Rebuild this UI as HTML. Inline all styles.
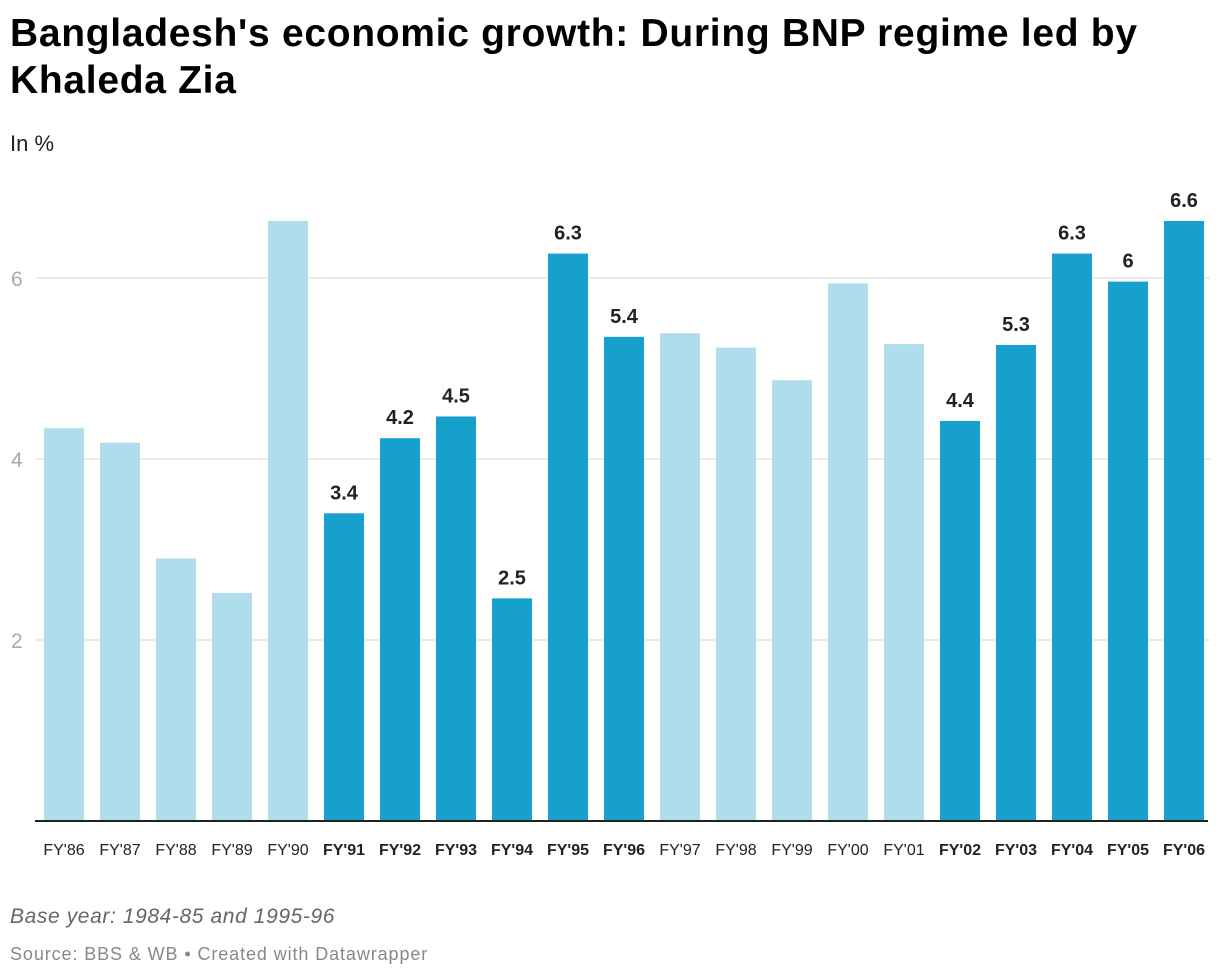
<!DOCTYPE html>
<html><head><meta charset="utf-8"><style>
body{margin:0;background:#fff;width:1220px;height:980px;overflow:hidden;font-family:"Liberation Sans",Arial,sans-serif;}
.t{position:absolute;left:10px;top:10px;font-size:39px;font-weight:bold;line-height:47px;color:#000;letter-spacing:0.7px;width:1210px}
.s{position:absolute;left:10px;top:131px;font-size:22px;color:#222}
.n{position:absolute;left:10px;top:905px;font-size:21px;font-style:italic;color:#666;letter-spacing:0.6px}
.src{position:absolute;left:10px;top:944px;font-size:18px;color:#888;letter-spacing:0.9px}
</style></head><body>
<div class="t">Bangladesh's economic growth: During BNP regime led by Khaleda Zia</div>
<div class="s">In %</div>
<svg id="c" width="1220" height="980" style="position:absolute;left:0;top:0"></svg>
<div class="n">Base year: 1984-85 and 1995-96</div>
<div class="src">Source: BBS &amp; WB • Created with Datawrapper</div>
<script>
const categories=["FY'86","FY'87","FY'88","FY'89","FY'90","FY'91","FY'92","FY'93","FY'94","FY'95","FY'96","FY'97","FY'98","FY'99","FY'00","FY'01","FY'02","FY'03","FY'04","FY'05","FY'06"];
const values=[4.34,4.18,2.9,2.52,6.63,3.4,4.23,4.47,2.46,6.27,5.35,5.39,5.23,4.87,5.94,5.27,4.42,5.26,6.27,5.96,6.63];
const bnp=[0,0,0,0,0,1,1,1,1,1,1,0,0,0,0,0,1,1,1,1,1];
const labels=["","","","","","3.4","4.2","4.5","2.5","6.3","5.4","","","","","","4.4","5.3","6.3","6","6.6"];
const ticks=[2,4,6];
const svg=document.getElementById('c');const NS='http://www.w3.org/2000/svg';
const y=v=>821-v*90.5;const x=i=>44+i*56;
function mk(t,a,txt){const e=document.createElementNS(NS,t);for(const k in a)e.setAttribute(k,a[k]);if(txt!==undefined)e.textContent=txt;svg.appendChild(e);return e;}
ticks.forEach(t=>{
const g=mk('line',{x1:36,x2:1210,y1:y(t),y2:y(t),stroke:'#e3e3e3','stroke-width':1.5});


const l=mk('text',{x:11,y:y(t)+8,'font-size':21,fill:'#aaa'},String(t));


});
categories.forEach((c,i)=>{
const b=mk('rect',{x:x(i),y:y(values[i]),width:40,height:821-y(values[i]),fill:bnp[i]?'#18a0cc':'#b0ddec'});


const t=mk('text',{x:x(i)+20,y:855,'text-anchor':'middle','font-size':16,fill:'#222','font-weight':bnp[i]?'bold':'normal'},c);


if(labels[i]){const v=mk('text',{x:x(i)+20,y:y(values[i])-14,'text-anchor':'middle','font-size':20,'font-weight':'bold',fill:'#222'},labels[i]);

}
});
const ax=mk('line',{x1:35,x2:1208,y1:821,y2:821,stroke:'#222','stroke-width':2});


</script>
</body></html>
